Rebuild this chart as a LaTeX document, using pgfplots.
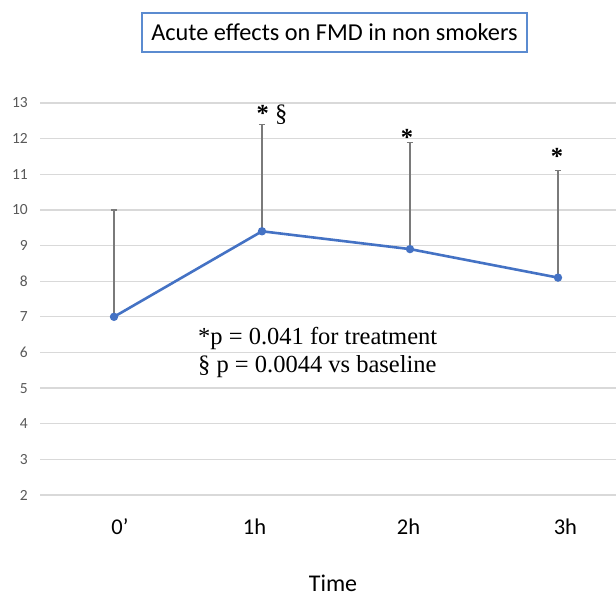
\documentclass[border=0pt]{standalone}
\usepackage{pgfplots}
\pgfplotsset{compat=1.18}
\usepackage{fontspec}
\setmainfont{Carlito}
\newfontfamily\timesf{Liberation Serif}
\definecolor{lineblue}{HTML}{4472C4}
\definecolor{gridgray}{HTML}{D9D9D9}
\definecolor{ticklab}{HTML}{595959}
\definecolor{errgray}{HTML}{7A7A7A}
\definecolor{boxblue}{HTML}{5B8BD0}
\begin{document}
\begin{tikzpicture}[x=1pt,y=1pt]
\path[use as bounding box] (0,0) rectangle (616,597);
\begin{axis}[
 at={(40pt,102pt)}, anchor=south west,
 scale only axis, width=575.7pt, height=392pt,
 xmin=-0.5, xmax=3.39, ymin=2, ymax=13,
 ytick={2,...,13},
 xtick={0.04,0.95,1.99,3.05}, xticklabels={0’,1h,2h,3h},
 axis line style={draw=none}, major tick length=0pt,
 ymajorgrids, grid style={gridgray, line width=1.2pt},
 /pgf/number format/assume math mode=true,
 yticklabel style={font=\fontsize{15.5}{17}\selectfont, text=ticklab, anchor=east, inner sep=0pt, xshift=-12pt},
 xticklabel style={font=\fontsize{22.5}{26}\selectfont, text=black, anchor=base, yshift=-40pt},
 clip=false,
]
\addplot[color=lineblue, line width=2.6pt, mark=*, mark size=2.8pt, mark options={fill=lineblue, draw=lineblue},
 error bars/.cd, y dir=plus, y explicit, error bar style={errgray, line width=1.4pt}, error mark options={errgray, line width=1.3pt, mark size=3.2pt, rotate=90}]
 coordinates {(0,7.0) +- (0,3.0) (1,9.4) +- (0,3.0) (2,8.9) +- (0,3.0) (3,8.1) +- (0,3.0)};
\end{axis}
\node[draw=boxblue, line width=1.1pt, minimum width=385pt, minimum height=39pt, inner sep=0pt, font=\fontsize{24.3}{28}\selectfont] at (334.5,564.5) {Acute effects on FMD in non smokers};
\node[anchor=base, font=\fontsize{24}{28}\selectfont] at (333,5) {Time};
\node[anchor=base west, inner sep=0pt, font=\timesf\fontsize{24.5}{28}\selectfont] at (198,252) {*p = 0.041 for treatment};
\node[anchor=base west, inner sep=0pt, font=\timesf\fontsize{24.5}{28}\selectfont] at (198,224) {§ p = 0.0044 vs baseline};
\node[anchor=base west, inner sep=0pt, font=\timesf\fontsize{24.5}{28}\selectfont] at (256.5,475) {{\bfseries *} §};
\node[anchor=base, inner sep=0pt, font=\timesf\bfseries\fontsize{24.5}{28}\selectfont] at (407,451) {*};
\node[anchor=base, inner sep=0pt, font=\timesf\bfseries\fontsize{24.5}{28}\selectfont] at (557,432) {*};
\end{tikzpicture}
\end{document}
